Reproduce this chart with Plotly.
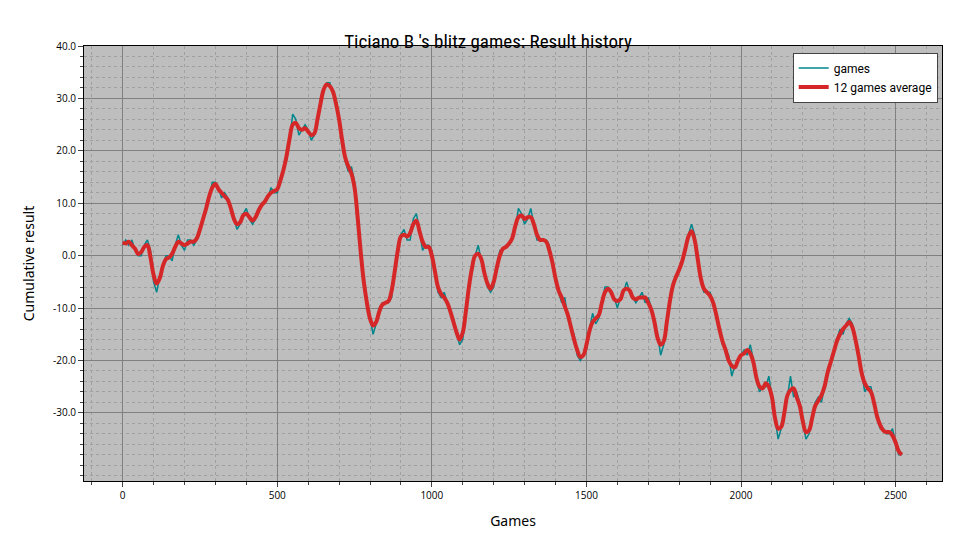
import pandas as pd
import plotly.graph_objects as go

# cumulative result, one value per 10 games
step = 10
result = [
    2, 3, 2, 3, 1, 0, 0, 2, 3, 1, -5, -7, -4, -2, 0, 0, -1, 2, 4, 2,
    1, 3, 3, 2, 3, 5, 7, 9, 11, 14, 14, 13, 11, 12, 11, 9, 7, 5, 6, 8,
    9, 7, 6, 7, 9, 10, 10, 11, 13, 12, 12, 14, 17, 18, 22, 27, 26, 23, 24, 25,
    24, 22, 23, 25, 30, 32, 33, 33, 31, 30, 26, 22, 18, 16, 17, 14, 8, 0, -6, -9,
    -12, -15, -13, -10, -9, -9, -9, -8, -3, 2, 4, 5, 3, 3, 7, 8, 5, 1, 2, 2,
    1, -3, -7, -8, -7, -9, -11, -12, -15, -17, -16, -11, -5, -2, 0, 2, -1, -3, -6, -7,
    -6, -2, 1, 1, 2, 2, 3, 5, 9, 8, 6, 7, 9, 6, 3, 3, 3, 3, 2, -2,
    -4, -7, -9, -8, -12, -14, -15, -19, -20, -19, -18, -14, -11, -13, -12, -9, -6, -6, -7, -8,
    -10, -8, -7, -5, -7, -8, -9, -8, -7, -9, -8, -10, -13, -15, -19, -17, -13, -8, -5, -4,
    -3, -1, 1, 4, 6, 4, -1, -5, -7, -7, -7, -9, -11, -14, -17, -18, -19, -23, -21, -20,
    -19, -18, -19, -17, -20, -24, -26, -25, -25, -23, -27, -31, -35, -33, -30, -27, -23, -27, -26, -28,
    -32, -35, -34, -31, -28, -27, -28, -25, -22, -20, -19, -16, -14, -15, -13, -12, -13, -16, -19, -22,
    -26, -25, -25, -28, -31, -33, -33, -34, -34, -33, -36, -38, -38,
]
games = [i * step for i in range(len(result))]
y_ticks = [-30, -20, -10, 0, 10, 20, 30, 40]

avg = pd.Series(result).rolling(3, center=True, min_periods=1).mean()

fig = go.Figure()
fig.add_trace(go.Scatter(x=games, y=result, mode="lines", name="games",
                         line=dict(color="#00868b", width=1.5)))
fig.add_trace(go.Scatter(x=games, y=avg, mode="lines", name="12 games average",
                         line=dict(color="#d62728", width=4, shape="spline")))

axis_common = dict(showline=True, linecolor="black", mirror=True, ticks="outside",
                   gridcolor="#808080", gridwidth=1, zeroline=False, automargin=False,
                   tickfont=dict(size=10, color="black"))
fig.update_layout(
    width=960, height=540,
    paper_bgcolor="white", plot_bgcolor="#bebebe",
    margin=dict(l=76, r=26, t=38, b=67),
    title=dict(text="Ticiano B 's blitz games: Result history", x=0.5, y=0.95,
               font=dict(family="Liberation Sans Narrow, Roboto Condensed, Roboto", size=19, color="black")),
    xaxis=dict(axis_common, range=[-125, 2650], tickvals=[0, 500, 1000, 1500, 2000, 2500],
               title=dict(text="Games", font=dict(family="Noto Sans", size=14, color="black")),
               minor=dict(dtick=100, ticks="outside", showgrid=True, gridcolor="#a0a0a0", griddash="dot")),
    yaxis=dict(axis_common, range=[-43, 40], tickvals=y_ticks,
               ticktext=[f"{v:.1f}" for v in y_ticks],
               title=dict(text="Cumulative result", font=dict(family="Noto Sans", size=14, color="black")),
               minor=dict(dtick=2, ticks="outside", showgrid=True, gridcolor="#a0a0a0", griddash="dot")),
    legend=dict(x=0.995, y=0.985, xanchor="right", yanchor="top", bgcolor="white",
                bordercolor="#444", borderwidth=1,
                font=dict(family="Liberation Sans Narrow, Roboto", size=12, color="black")),
)
fig.write_html("out.html")
